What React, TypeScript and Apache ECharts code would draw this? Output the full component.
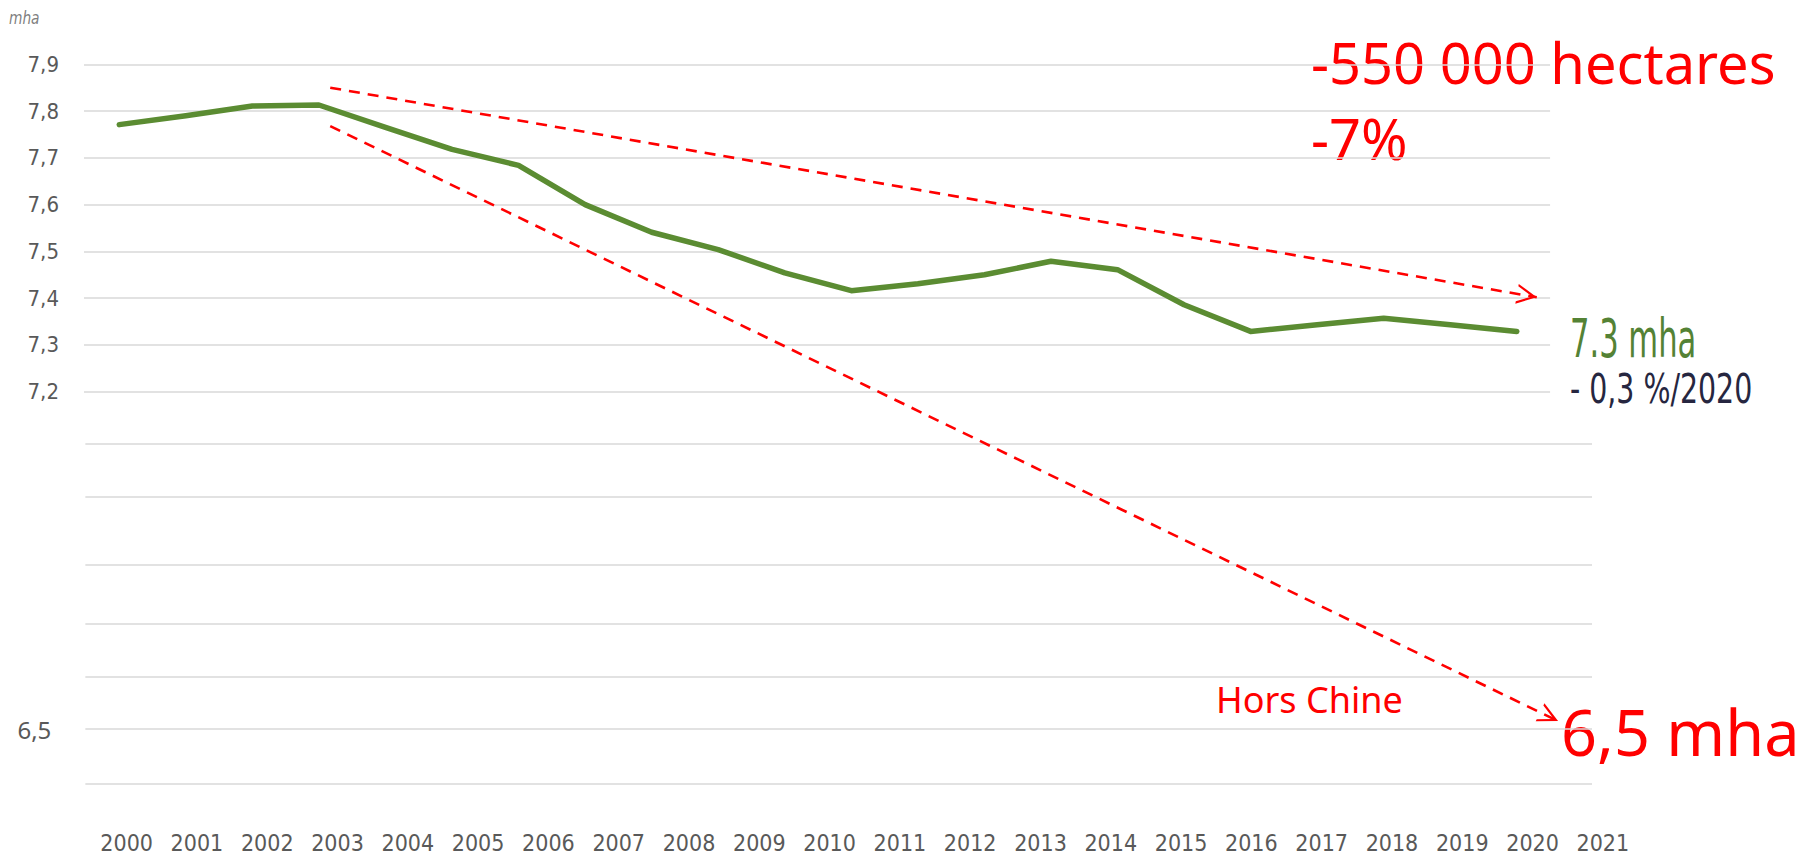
import React, { useEffect, useRef } from 'react';
import * as echarts from 'echarts';

// ---- data ----
const YEARS = ['2000', '2001', '2002', '2003', '2004', '2005', '2006', '2007', '2008', '2009', '2010',
  '2011', '2012', '2013', '2014', '2015', '2016', '2017', '2018', '2019', '2020', '2021'];
const AREA_MHA = [7.771, 7.790, 7.811, 7.813, 7.765, 7.718, 7.684, 7.600, 7.541, 7.504, 7.454,
  7.416, 7.431, 7.450, 7.479, 7.461, 7.386, 7.329, 7.343, 7.357, 7.343, 7.329];

const UPPER_TICKS = [7.9, 7.8, 7.7, 7.6, 7.5, 7.4, 7.3, 7.2];
const UPPER_TICK_LABELS = ['7,9', '7,8', '7,7', '7,6', '7,5', '7,4', '7,3', '7,2'];
const LOWER_GRIDLINES = [7.089, 6.976, 6.831, 6.705, 6.590, 6.479, 6.361];
const LOWER_GRID_LABELS = ['', '', '', '', '', '6,5', ''];

// trend arrows (year, mha)
const TREND_TOP = [[2003.17, 7.85], [2021.3, 7.402]];
const TREND_BOTTOM = [[2003.17, 7.768], [2021.62, 6.496]];

const NARROW = '"Liberation Sans Narrow", "DejaVu Sans Condensed", "Roboto Condensed", Roboto, sans-serif';
const SANS = '"Noto Sans", "Open Sans", sans-serif';
const CHEVRON = 'path://M50,0 L100,100 L88,100 L50,24 L12,100 L0,100 Z';

const X_MIN = 1999.47;
const X_MAX = 2022.13;
const UPPER_END = 2021.5;

function txt(x: number, y: number, text: string, fontFamily: string, fontSize: number, fill: string, extra: any = {}, scaleX = 1) {
  return {
    type: 'text', x, y, scaleX, silent: true,
    style: {
      text, fontFamily, fontSize, fill,
      align: 'left', verticalAlign: 'middle',
      ...extra,
    },
  };
}

export default function App() {
  const ref = useRef<HTMLDivElement>(null);
  useEffect(() => {
    if (!ref.current) return;
    const chart = echarts.init(ref.current, null, { renderer: 'svg' });
    const years = YEARS.map(Number);

    const gridData: any[] = [];
    UPPER_TICKS.forEach((v, i) => {
      gridData.push([
        { coord: [X_MIN, v], name: UPPER_TICK_LABELS[i] },
        { coord: [UPPER_END, v] },
      ]);
    });
    LOWER_GRIDLINES.forEach((v, i) => {
      const lbl = LOWER_GRID_LABELS[i];
      gridData.push([
        {
          coord: [X_MIN + 0.02, v], name: lbl,
          label: lbl
            ? { show: true, fontFamily: SANS, fontSize: 24, color: '#595959', distance: 34 }
            : { show: false },
        },
        { coord: [X_MAX, v] },
      ]);
    });

    const option: any = {
      animation: false,
      backgroundColor: '#ffffff',
      grid: [
        { left: 84, right: 228, top: 64.3, bottom: 73.3 },
        { left: 91.5, right: 182, top: 64.3, bottom: 39 },
      ],
      xAxis: [
        { type: 'value', gridIndex: 0, min: X_MIN, max: X_MAX, show: false },
        {
          type: 'category', gridIndex: 1, data: YEARS, boundaryGap: true,
          axisLine: { show: false }, axisTick: { show: false },
          axisLabel: { fontFamily: NARROW, fontSize: 23, color: '#595959', margin: 12, interval: 0 },
          splitLine: { show: false },
        },
      ],
      yAxis: [
        { type: 'value', gridIndex: 0, min: 6.36, max: 7.9, show: false, splitLine: { show: false } },
        { type: 'value', gridIndex: 1, min: 0, max: 1, show: false, splitLine: { show: false } },
      ],
      series: [
        {
          type: 'line', xAxisIndex: 0, yAxisIndex: 0, data: [], silent: true,
          markLine: {
            silent: true, z: 1, symbol: 'none', animation: false,
            lineStyle: { color: '#D9D9D9', width: 1.5, type: 'solid' },
            label: {
              show: true, position: 'start', distance: 25, formatter: '{b}',
              fontFamily: NARROW, fontSize: 22, color: '#595959',
            },
            emphasis: { disabled: true },
            data: gridData,
          },
        },
        {
          name: 'Surface viticole', type: 'line', xAxisIndex: 0, yAxisIndex: 0, z: 3,
          data: years.map((y, i) => [y, AREA_MHA[i]]),
          showSymbol: false, symbol: 'none', smooth: false,
          lineStyle: { color: '#5B8C32', width: 5.5, cap: 'round', join: 'round' },
          silent: true,
        },
        {
          type: 'line', xAxisIndex: 0, yAxisIndex: 0, data: [], silent: true,
          markLine: {
            silent: true, z: 4, animation: false,
            symbol: ['none', CHEVRON], symbolSize: 20, symbolOffset: [0, [0, 10]],
            lineStyle: { color: '#FF0000', width: 2.6, type: [11, 8] },
            label: { show: false },
            emphasis: { disabled: true },
            data: [
              [{ coord: TREND_TOP[0] }, { coord: TREND_TOP[1] }],
              [{ coord: TREND_BOTTOM[0] }, { coord: TREND_BOTTOM[1] }],
            ],
          },
        },
        { type: 'line', xAxisIndex: 1, yAxisIndex: 1, data: [], silent: true },
      ],
      graphic: [
        txt(9, 18, 'mha', NARROW, 18, '#7F7F7F', { fontStyle: 'italic' }, 0.85),
        txt(1311, 62, '-550 000 hectares', SANS, 56, '#FF0000'),
        txt(1311, 138, '-7%', SANS, 56, '#FF0000'),
        txt(1570, 338, '7.3 mha', NARROW, 54, '#548235', {}, 0.63),
        txt(1570, 389, '- 0,3 %/2020', NARROW, 41, '#262640', {}, 0.77),
        txt(1216, 699, 'Hors Chine', SANS, 36, '#FF0000'),
        txt(1561, 731, '6,5 mha', SANS, 63, '#FF0000'),
      ],
    };
    chart.setOption(option);
    return () => chart.dispose();
  }, []);
  return <div ref={ref} style={{ position: 'fixed', left: 0, top: 0, width: 1820, height: 858 }} />;
}
